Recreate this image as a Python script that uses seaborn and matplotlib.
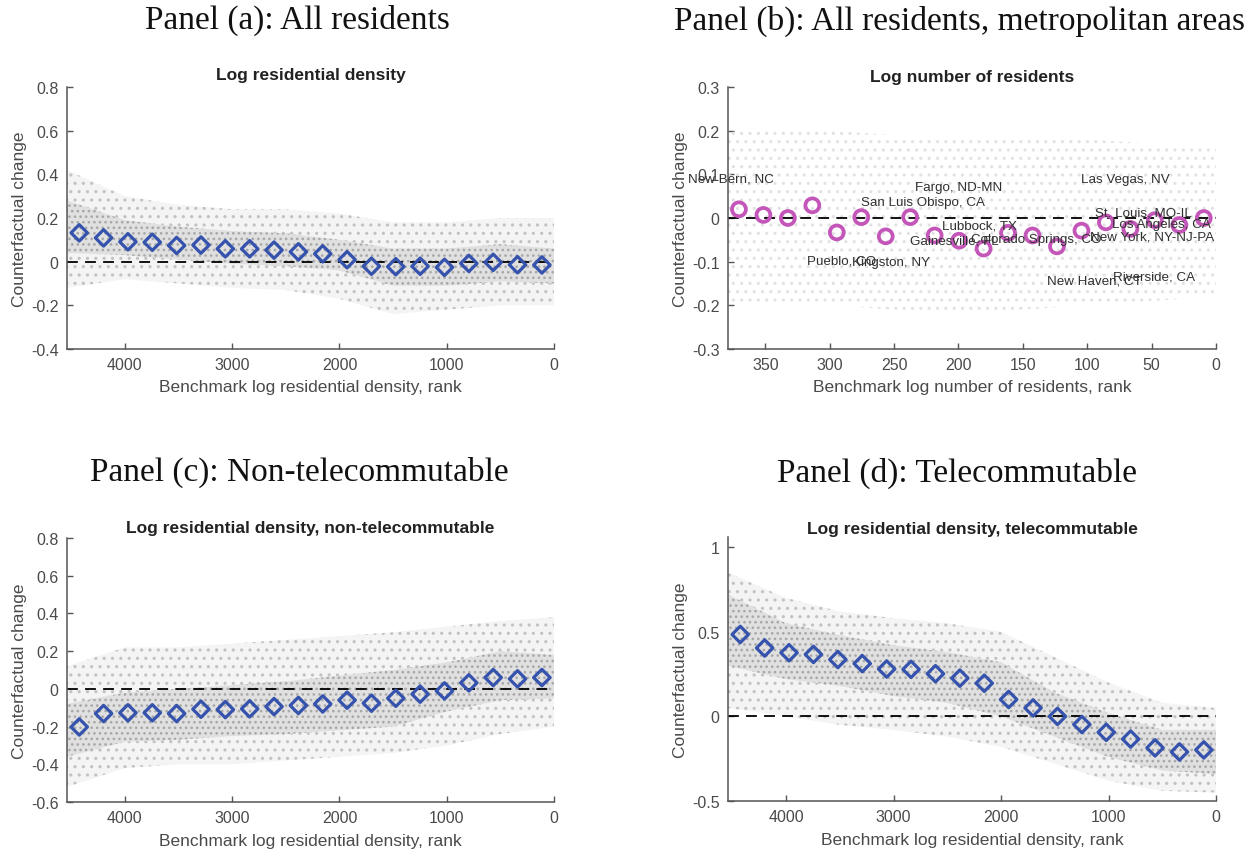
import numpy as np
import pandas as pd
import matplotlib
matplotlib.use("Agg")
import matplotlib.pyplot as plt
import seaborn as sns

# ---------------- data ----------------
# bin centres (rank) for the tract-level panels (a), (c), (d)
rank_bins = [4426, 4199, 3972, 3745, 3518, 3291, 3064, 2837, 2610, 2383,
             2156, 1929, 1702, 1475, 1248, 1021, 794, 567, 340, 113]
# bin means
mean_a = [0.132, 0.109, 0.091, 0.089, 0.074, 0.076, 0.059, 0.059, 0.053, 0.045,
          0.036, 0.009, -0.021, -0.023, -0.021, -0.026, -0.008, -0.003, -0.014, -0.015]
mean_c = [-0.202, -0.131, -0.127, -0.127, -0.131, -0.108, -0.110, -0.106, -0.094, -0.088,
          -0.080, -0.060, -0.076, -0.050, -0.028, -0.011, 0.032, 0.060, 0.053, 0.060]
mean_d = [0.484, 0.404, 0.376, 0.366, 0.336, 0.312, 0.280, 0.278, 0.252, 0.226,
          0.196, 0.100, 0.050, 0.000, -0.048, -0.094, -0.134, -0.186, -0.210, -0.198]

# metro panel (b)
metro_bins = [370.5, 351.5, 332.5, 313.5, 294.5, 275.5, 256.5, 237.5, 218.5, 199.5,
              180.5, 161.5, 142.5, 123.5, 104.5, 85.5, 66.5, 47.5, 28.5, 9.5]
mean_b = [0.020, 0.007, 0.000, 0.029, -0.033, 0.002, -0.042, 0.002, -0.040, -0.052,
          -0.070, -0.034, -0.040, -0.065, -0.029, -0.010, -0.025, -0.005, -0.016, 0.000]

metro_names = ["New Bern, NC", "Fargo, ND-MN", "San Luis Obispo, CA", "Lubbock, TX",
               "Gainesville, FL", "Colorado Springs, CO", "Pueblo, CO", "Kingston, NY",
               "Las Vegas, NV", "St. Louis, MO-IL", "Los Angeles, CA", "New York, NY-NJ-PA",
               "New Haven, CT", "Riverside, CA"]
metro_name_rank = [410, 234, 276, 213, 238, 190, 318, 283, 105, 94, 81, 98, 131, 80]
metro_name_val = [0.090, 0.070, 0.036, -0.017, -0.052, -0.048, -0.098, -0.100,
                  0.090, 0.012, -0.014, -0.042, -0.142, -0.135]

# spread of the underlying tract cloud (read at a few ranks)
cloud_rank = [4540, 4000, 3500, 3000, 2500, 2000, 1500, 1000, 500, 0]
cloud_a_in_lo = [0.04, 0.03, 0.01, -0.01, -0.02, -0.04, -0.11, -0.11, -0.09, -0.10]
cloud_a_in_hi = [0.28, 0.19, 0.16, 0.14, 0.13, 0.10, 0.06, 0.06, 0.08, 0.06]
cloud_a_out_lo = [-0.12, -0.08, -0.10, -0.12, -0.13, -0.17, -0.24, -0.22, -0.20, -0.20]
cloud_a_out_hi = [0.42, 0.30, 0.26, 0.24, 0.24, 0.22, 0.18, 0.18, 0.20, 0.20]
cloud_c_in_lo = [-0.36, -0.28, -0.27, -0.25, -0.24, -0.22, -0.20, -0.12, -0.06, -0.05]
cloud_c_in_hi = [-0.08, -0.02, 0.00, 0.02, 0.04, 0.07, 0.10, 0.14, 0.20, 0.18]
cloud_c_out_lo = [-0.52, -0.42, -0.40, -0.40, -0.38, -0.36, -0.34, -0.30, -0.24, -0.20]
cloud_c_out_hi = [0.12, 0.22, 0.22, 0.24, 0.26, 0.28, 0.30, 0.33, 0.36, 0.38]
cloud_d_in_lo = [0.30, 0.22, 0.18, 0.12, 0.08, 0.00, -0.12, -0.24, -0.32, -0.34]
cloud_d_in_hi = [0.72, 0.55, 0.48, 0.42, 0.38, 0.32, 0.14, 0.02, -0.08, -0.08]
cloud_d_out_lo = [0.05, 0.00, -0.05, -0.08, -0.12, -0.18, -0.28, -0.38, -0.44, -0.45]
cloud_d_out_hi = [0.85, 0.70, 0.62, 0.58, 0.55, 0.50, 0.35, 0.20, 0.08, 0.05]
cloud_b_rank = [380, 300, 200, 100, 0]
cloud_b_out_lo = [-0.20, -0.20, -0.22, -0.20, -0.18]
cloud_b_out_hi = [0.20, 0.20, 0.18, 0.18, 0.16]

panel_titles = ["Panel (a): All residents", "Panel (b): All residents, metropolitan areas",
                "Panel (c): Non-telecommutable", "Panel (d): Telecommutable"]
sub_titles = ["Log residential density", "Log number of residents",
              "Log residential density, non-telecommutable",
              "Log residential density, telecommutable"]
x_labels = ["Benchmark log residential density, rank",
            "Benchmark log number of residents, rank",
            "Benchmark log residential density, rank",
            "Benchmark log residential density, rank"]
y_label = "Counterfactual change"

# ---------------- style ----------------
sns.set_theme(style="white")
plt.rcParams['font.family'] = ['Liberation Sans', 'DejaVu Sans']
plt.rcParams['hatch.linewidth'] = 1.1

BLUE = "#3553ad"
MAGENTA = "#c456b9"
AXCOL = "#555555"
TXT = "#4a4a4a"

fig = plt.figure(figsize=(12.55, 8.53), dpi=100)

W, H = 1255, 853
def add_ax(l, r, t, b):
    return fig.add_axes([l / W, 1 - b / H, (r - l) / W, (b - t) / H])

ax_a = add_ax(67, 554, 88, 350)
ax_b = add_ax(728, 1216, 88, 350)
ax_c = add_ax(67, 554, 539, 803)
ax_d = add_ax(728, 1216, 538, 802)
axes = [ax_a, ax_b, ax_c, ax_d]


def draw_cloud(ax, xr, in_lo, in_hi, out_lo, out_hi):
    ax.fill_between(xr, out_lo, out_hi, facecolor="#f4f4f4", edgecolor="#c2c2c2",
                    hatch="..", linewidth=0, zorder=1)
    ax.fill_between(xr, in_lo, in_hi, facecolor="#e0e0e0", edgecolor="#a8a8a8",
                    hatch="...", linewidth=0, zorder=1.1)


draw_cloud(ax_a, cloud_rank, cloud_a_in_lo, cloud_a_in_hi, cloud_a_out_lo, cloud_a_out_hi)
draw_cloud(ax_c, cloud_rank, cloud_c_in_lo, cloud_c_in_hi, cloud_c_out_lo, cloud_c_out_hi)
draw_cloud(ax_d, cloud_rank, cloud_d_in_lo, cloud_d_in_hi, cloud_d_out_lo, cloud_d_out_hi)
ax_b.fill_between(cloud_b_rank, cloud_b_out_lo, cloud_b_out_hi, facecolor="none",
                  edgecolor="#e2e2e2", hatch="..", linewidth=0, zorder=1)

for ax in axes:
    ax.axhline(0, color="black", lw=1.3, ls=(0, (6, 4)), zorder=2)

for ax, m in [(ax_a, mean_a), (ax_c, mean_c), (ax_d, mean_d)]:
    df = pd.DataFrame({"rank": rank_bins, "val": m})
    sns.scatterplot(data=df, x="rank", y="val", ax=ax, marker="D", s=70,
                    facecolor="none", edgecolor=BLUE, linewidth=2.3, zorder=3)

dfb = pd.DataFrame({"rank": metro_bins, "val": mean_b})
sns.scatterplot(data=dfb, x="rank", y="val", ax=ax_b, marker="o", s=100,
                facecolor="none", edgecolor=MAGENTA, linewidth=2.7, zorder=3)
for name, r, v in zip(metro_names, metro_name_rank, metro_name_val):
    ax_b.text(r, v, name, fontsize=9.6, color="#303030", ha="left", va="center",
              zorder=4, clip_on=False)

# axes limits & ticks
for ax in (ax_a, ax_c, ax_d):
    ax.set_xlim(4540, 0)
    ax.set_xticks([4000, 3000, 2000, 1000, 0])
ax_b.set_xlim(379, 0)
ax_b.set_xticks([350, 300, 250, 200, 150, 100, 50, 0])
ax_a.set_ylim(-0.4, 0.8)
ax_a.set_yticks([-0.4, -0.2, 0, 0.2, 0.4, 0.6, 0.8])
ax_a.set_yticklabels(["-0.4", "-0.2", "0", "0.2", "0.4", "0.6", "0.8"])
ax_b.set_ylim(-0.3, 0.3)
ax_b.set_yticks([-0.3, -0.2, -0.1, 0, 0.1, 0.2, 0.3])
ax_b.set_yticklabels(["-0.3", "-0.2", "-0.1", "0", "0.1", "0.2", "0.3"])
ax_c.set_ylim(-0.6, 0.8)
ax_c.set_yticks([-0.6, -0.4, -0.2, 0, 0.2, 0.4, 0.6, 0.8])
ax_c.set_yticklabels(["-0.6", "-0.4", "-0.2", "0", "0.2", "0.4", "0.6", "0.8"])
ax_d.set_ylim(-0.5, 1.06)
ax_d.set_yticks([-0.5, 0, 0.5, 1])
ax_d.set_yticklabels(["-0.5", "0", "0.5", "1"])

sub_baselines = [80, 82, 533, 534]
for ax, st, xl, sb in zip(axes, sub_titles, x_labels, sub_baselines):
    for s in ("top", "right"):
        ax.spines[s].set_visible(False)
    for s in ("left", "bottom"):
        ax.spines[s].set_color(AXCOL)
        ax.spines[s].set_linewidth(1.1)
    ax.tick_params(direction="in", length=4, width=1, colors=AXCOL, labelsize=11.5,
                   labelcolor=TXT, left=True, bottom=True, pad=6)
    ax.set_facecolor("white")
    pos = ax.get_position()
    fig.text(pos.x0 + pos.width / 2, 1 - sb / H, st, fontsize=12.5, fontweight="bold",
             color="#222222", ha="center", va="baseline")
    ax.set_xlabel(xl, fontsize=12.5, color=TXT)
    ax.set_ylabel(y_label, fontsize=12.5, color=TXT)
    ax.xaxis.set_label_coords(0.5, -0.145)
    ax.xaxis.label.set_va("center")
    ax.yaxis.set_label_coords(-0.098, 0.5)
    ax.yaxis.label.set_va("center")

title_pos = [(297, 29), (959, 30), (299, 481), (957, 482)]
for t, (px, py) in zip(panel_titles, title_pos):
    fig.text(px / W, 1 - py / H, t, fontsize=24, family="Liberation Serif",
             ha="center", va="baseline", color="#111111")

fig.savefig("out.png", dpi=100, facecolor="white")
